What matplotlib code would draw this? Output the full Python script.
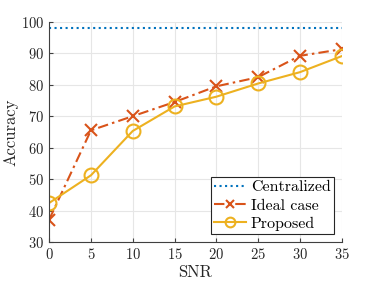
import matplotlib
matplotlib.use("Agg")
import matplotlib.pyplot as plt

snr = [0, 5, 10, 15, 20, 25, 30, 35]
centralized = [98.2] * len(snr)
ideal_case = [37.1, 65.5, 70.0, 74.5, 79.5, 82.4, 89.2, 91.3]
proposed = [42.4, 51.2, 65.3, 73.1, 76.2, 80.4, 84.0, 89.1]

xticks = [0, 5, 10, 15, 20, 25, 30, 35]
yticks = [30, 40, 50, 60, 70, 80, 90, 100]

plt.rcParams['font.family'] = 'serif'
plt.rcParams['font.serif'] = ['cmr10', 'DejaVu Serif']
plt.rcParams['axes.formatter.use_mathtext'] = True

fig = plt.figure(figsize=(3.78, 2.84), dpi=100)
ax = fig.add_axes([0.130, 0.148, 0.774, 0.775])

ax.plot(snr, centralized, ':', color='#0072BD', lw=1.5, label='Centralized')
ax.plot(snr, ideal_case, color='#D95319', lw=1.5, ls=(0, (5, 2, 1.2, 2)),
        marker='x', ms=8, mew=1.5, label='Ideal case')
ax.plot(snr, proposed, '-', color='#EDB120', lw=1.5, marker='o',
        ms=10, mfc='none', mew=1.5, label='Proposed')

ax.set_xlim(0, 35)
ax.set_ylim(30, 100)
ax.set_xticks(xticks)
ax.set_yticks(yticks)
ax.grid(True, color='#e6e6e6', lw=0.8)
ax.set_axisbelow(True)
for side in ['top', 'right']:
    ax.spines[side].set_visible(False)
for side in ['left', 'bottom']:
    ax.spines[side].set_color('#404040')
ax.tick_params(direction='in', length=3, colors='#404040', labelsize=10.5,
               labelcolor='#262626')
ax.set_xlabel('SNR', fontsize=12, color='#262626', labelpad=2)
ax.set_ylabel('Accuracy', fontsize=12, color='#262626', labelpad=2)

leg = ax.legend(loc='lower right', fontsize=11.5, fancybox=False,
                framealpha=1, edgecolor='#262626', handlelength=2.0,
                handletextpad=0.3, borderpad=0.2, labelspacing=0.25,
                borderaxespad=0.5, markerscale=0.7)
leg.get_frame().set_linewidth(0.8)

fig.savefig('out.png', dpi=100)
